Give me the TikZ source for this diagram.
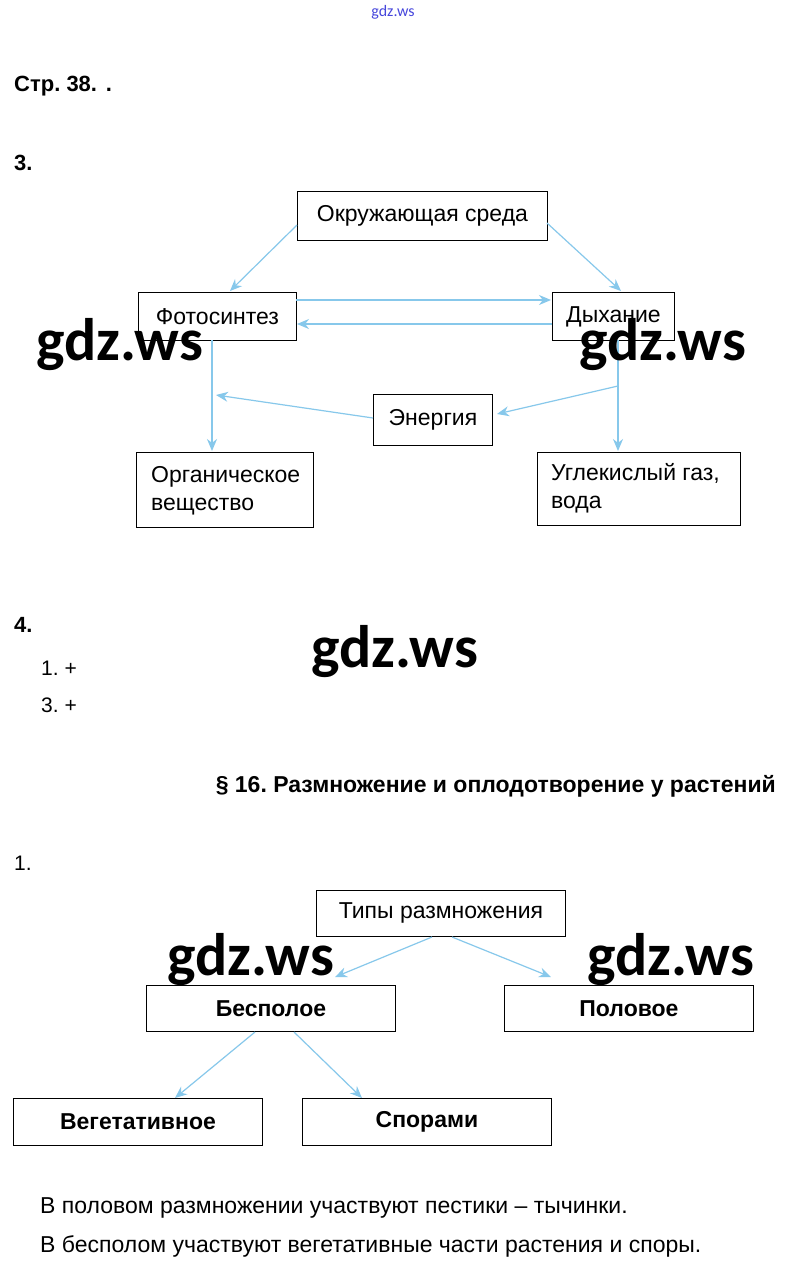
\documentclass[tikz,border=0pt]{standalone}
\usepackage{fontspec}
\setmainfont{Liberation Sans}
\newfontfamily\wmfont{Carlito}
\usetikzlibrary{arrows.meta}
\definecolor{arrc}{RGB}{135,200,235}
\definecolor{wmblue}{RGB}{70,70,220}
\frenchspacing
\begin{document}
\begin{tikzpicture}[x=1pt,y=-1pt,
  box/.style={draw=black,line width=0.9pt,inner sep=0pt,anchor=north west},
  txt/.style={font=\fontsize{23}{27}\selectfont,inner sep=0pt},
  btxt/.style={font=\fontsize{23}{27}\selectfont\bfseries,inner sep=0pt},
  head/.style={font=\fontsize{22}{26}\selectfont\bfseries,inner sep=0pt,anchor=base west},
  body/.style={font=\fontsize{23}{27}\selectfont,inner sep=0pt,anchor=base west},
  small/.style={font=\fontsize{21}{25}\selectfont,inner sep=0pt,anchor=base west},
  wm/.style={font=\wmfont\bfseries\fontsize{60}{64}\selectfont,inner sep=0pt,text=black},
  arr/.style={draw=arrc,line width=1.2pt,-{Stealth[length=12pt,width=10pt]}}]
\useasboundingbox (0,0) rectangle (788,1270);
\fill[white] (0,0) rectangle (788,1270);

% top small watermark
\node[font=\wmfont\fontsize{16}{17}\selectfont,text=wmblue,inner sep=0pt] (wmtop) at (393,12) {gdz.ws};

\node[head] (str) at (14,91) {Стр. 38.\hspace{0.4em}.};
\node[head] (n3) at (14,170) {3.};

% top diagram boxes
\node[box,minimum width=250pt,minimum height=49pt] (env) at (297,191) {};
\node[txt] (envt) at (env.center) {Окружающая среда};
\node[box,minimum width=158pt,minimum height=48pt] (foto) at (138,292) {};
\node[txt] (fotot) at (foto.center) {Фотосинтез};
\node[box,minimum width=122pt,minimum height=48pt] (dyh) at (552,292) {};
\node[txt] (dyht) at (dyh.center) {Дыхание};
\node[box,minimum width=119pt,minimum height=51pt] (en) at (373,394) {};
\node[txt] (ent) at (en.center) {Энергия};
\node[box,minimum width=177pt,minimum height=75pt] (org) at (136,452) {};
\node[txt,anchor=base west] (orgt1) at (151,482) {Органическое};
\node[txt,anchor=base west] (orgt2) at (151,510) {вещество};
\node[box,minimum width=203pt,minimum height=73pt] (co) at (537,452) {};
\node[txt,anchor=base west] (cot1) at (551,480) {Углекислый газ,};
\node[txt,anchor=base west] (cot2) at (551,508) {вода};

% connectors top
\coordinate (envL) at (297,225);
\coordinate (fotoT) at (230,291);
\coordinate (envR) at (547,223);
\coordinate (dyhT) at (621,291);
\coordinate (f1) at (296,300);
\coordinate (d1) at (551,300);
\coordinate (d2) at (552,324);
\coordinate (f2) at (297,324);
\coordinate (fB) at (212,340);
\coordinate (oT) at (212,451);
\coordinate (dB) at (618,340);
\coordinate (cT) at (618,451);
\coordinate (jL) at (216,395);
\coordinate (jR) at (618,386);
\coordinate (enL) at (373,418);
\coordinate (enR) at (497,414);
\draw[arr] (envL) -- (fotoT);
\draw[arr] (envR) -- (dyhT);
\draw[arr] (f1) -- (d1);
\draw[arr] (d2) -- (f2);
\draw[arr] (fB) -- (oT);
\draw[arr] (dB) -- (cT);
\draw[arr] (enL) -- (jL);
\draw[arr] (jR) -- (enR);

% section 4
\node[head] (n4) at (14,632) {4.};
\node[small] (a1) at (41,675) {1. +};
\node[small] (a3) at (41,712) {3. +};
\node[head,font=\fontsize{23}{27}\selectfont\bfseries,anchor=base east] (sec) at (776,792) {§ 16. Размножение и оплодотворение у растений};
\node[small] (n1) at (14,870) {1.};

% bottom diagram
\node[box,minimum width=249pt,minimum height=46pt] (types) at (316,890) {};
\node[txt] (typest) at (types.center) {Типы размножения};
\node[box,minimum width=249pt,minimum height=46pt] (bes) at (146,985) {};
\node[btxt] (best) at (bes.center) {Бесполое};
\node[box,minimum width=249pt,minimum height=46pt] (pol) at (504,985) {};
\node[btxt] (polt) at (pol.center) {Половое};
\node[box,minimum width=249pt,minimum height=47pt] (veg) at (13,1098) {};
\node[btxt] (vegt) at (veg.center) {Вегетативное};
\node[box,minimum width=249pt,minimum height=47pt] (spor) at (302,1098) {};
\node[btxt] (sport) at (spor.center) {Спорами};

\coordinate (t1) at (432,937);
\coordinate (b1) at (335,977);
\coordinate (t2) at (452,937);
\coordinate (p1) at (551,977);
\coordinate (bb1) at (255,1032);
\coordinate (v1) at (175,1098);
\coordinate (bb2) at (294,1032);
\coordinate (s1) at (362,1098);
\draw[arr] (t1) -- (b1);
\draw[arr] (t2) -- (p1);
\draw[arr] (bb1) -- (v1);
\draw[arr] (bb2) -- (s1);

\node[body] (s1t) at (40,1213) {В половом размножении участвуют пестики – тычинки.};
\node[body] (s2t) at (40,1252) {В бесполом участвуют вегетативные части растения и споры.};

% watermarks
\node[wm] (w1) at (120,345) {gdz.ws};
\node[wm] (w2) at (663,345) {gdz.ws};
\node[wm] (w3) at (395,652) {gdz.ws};
\node[wm] (w4) at (251,960) {gdz.ws};
\node[wm] (w5) at (671,960) {gdz.ws};
\end{tikzpicture}
\end{document}
